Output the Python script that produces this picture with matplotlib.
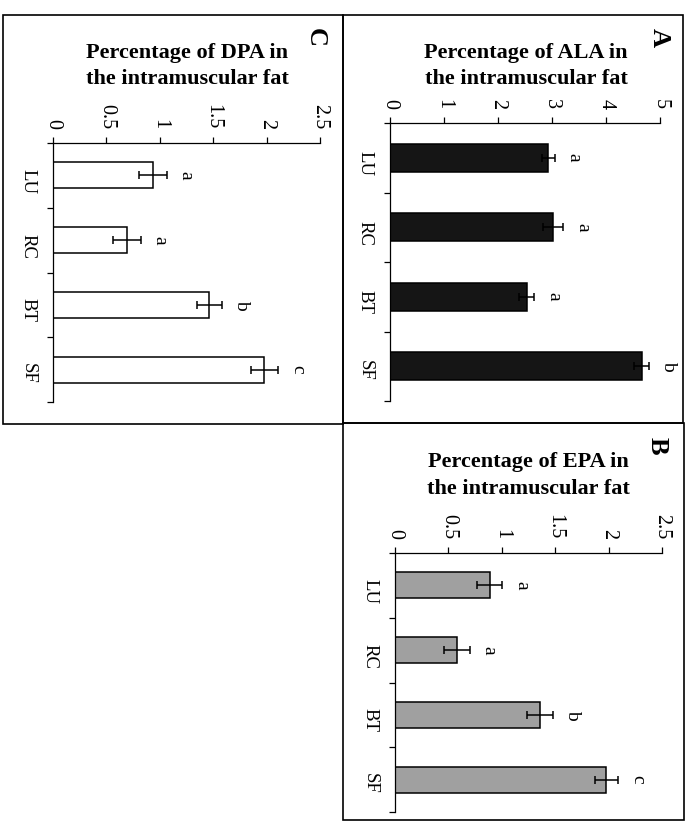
import matplotlib
matplotlib.use("Agg")
import matplotlib.pyplot as plt
from matplotlib.patches import Rectangle

plt.rcParams['font.family'] = ['Liberation Serif', 'DejaVu Serif']

# ---------------- data ----------------
categories = ['LU', 'RC', 'BT', 'SF']

ala_mean = [2.93, 3.02, 2.53, 4.66]
ala_err = [0.12, 0.19, 0.14, 0.14]
ala_letters = ['a', 'a', 'a', 'b']
ala_ticks = [0, 1, 2, 3, 4, 5]
ala_ticklabels = ['0', '1', '2', '3', '4', '5']

epa_mean = [0.885, 0.58, 1.36, 1.98]
epa_err = [0.12, 0.12, 0.12, 0.11]
epa_letters = ['a', 'a', 'b', 'c']

dpa_mean = [0.935, 0.69, 1.465, 1.98]
dpa_err = [0.13, 0.13, 0.12, 0.13]
dpa_letters = ['a', 'a', 'b', 'c']

small_ticks = [0, 0.5, 1, 1.5, 2, 2.5]
small_ticklabels = ['0', '0.5', '1', '1.5', '2', '2.5']

W, H = 688, 824
fig = plt.figure(figsize=(W / 100, H / 100), dpi=100)


def add_ax(x0, x1, ytop, ybot):
    return fig.add_axes([x0 / W, 1 - ybot / H, (x1 - x0) / W, (ybot - ytop) / H])


def draw_panel(ax, means, errs, letters, ticks, ticklabels, xmax, fc):
    y = list(range(len(categories)))
    ax.barh(y, means, height=0.4, color=fc, edgecolor='black', linewidth=1.1,
            xerr=errs, error_kw=dict(ecolor='black', elinewidth=1.1,
                                     capsize=3, capthick=1.1))
    ax.set_xlim(0, xmax)
    ax.set_ylim(3.5, -0.5)
    for s in ['right', 'bottom']:
        ax.spines[s].set_visible(False)
    for s in ['top', 'left']:
        ax.spines[s].set_linewidth(0.9)
    ax.xaxis.tick_top()
    ax.set_xticks(ticks)
    ax.set_xticklabels(ticklabels, rotation=270, fontsize=14.5)
    ax.tick_params(axis='x', direction='out', length=4, width=0.9, pad=6)
    ax.set_yticks([-0.5, 0.5, 1.5, 2.5, 3.5])
    ax.set_yticklabels([])
    ax.set_yticks(y, minor=True)
    ax.set_yticklabels(categories, minor=True, rotation=270, fontsize=13.5)
    ax.tick_params(axis='y', which='major', direction='out', length=4, width=0.9)
    ax.tick_params(axis='y', which='minor', length=0, pad=12)
    for i, (m, e, l) in enumerate(zip(means, errs, letters)):
        ax.annotate(l, xy=(m + e, i), xytext=(8, 0), textcoords='offset points',
                    rotation=270, ha='left', va='center', fontsize=14)
    ax.set_facecolor('none')


# panel A (ALA)
axA = add_ax(390, 660, 123, 401)
draw_panel(axA, ala_mean, ala_err, ala_letters, ala_ticks, ala_ticklabels, 5, '#151515')
# panel C (DPA)
axC = add_ax(53, 320, 143, 402)
draw_panel(axC, dpa_mean, dpa_err, dpa_letters, small_ticks, small_ticklabels, 2.5, 'white')
# panel B (EPA)
axB = add_ax(395, 662, 553, 812)
draw_panel(axB, epa_mean, epa_err, epa_letters, small_ticks, small_ticklabels, 2.5, '#a0a0a0')


def ftext(x, y, s, **kw):
    fig.text(x / W, 1 - y / H, s, **kw)


title_kw = dict(fontsize=16, fontweight='bold', ha='center', va='center')
ftext(526, 53, 'Percentage of ALA in', **title_kw)
ftext(526, 79, 'the intramuscular fat', **title_kw)
ftext(187, 53, 'Percentage of DPA in', **title_kw)
ftext(187, 79, 'the intramuscular fat', **title_kw)
ftext(528, 462, 'Percentage of EPA in', **title_kw)
ftext(528, 489, 'the intramuscular fat', **title_kw)

letter_kw = dict(fontsize=19, fontweight='bold', ha='center', va='center', rotation=270)
ftext(659, 38, 'A', **letter_kw)
ftext(657, 446, 'B', **letter_kw)
ftext(315, 38, 'C', **letter_kw)

# panel frames
for (x0, y0, x1, y1) in [(3, 15, 343, 424), (343, 15, 683, 423), (343, 423, 684, 820)]:
    fig.add_artist(Rectangle((x0 / W, 1 - y1 / H), (x1 - x0) / W, (y1 - y0) / H,
                             transform=fig.transFigure, fill=False,
                             edgecolor='black', linewidth=1.2))

fig.savefig('out.png', dpi=100, facecolor='white')
